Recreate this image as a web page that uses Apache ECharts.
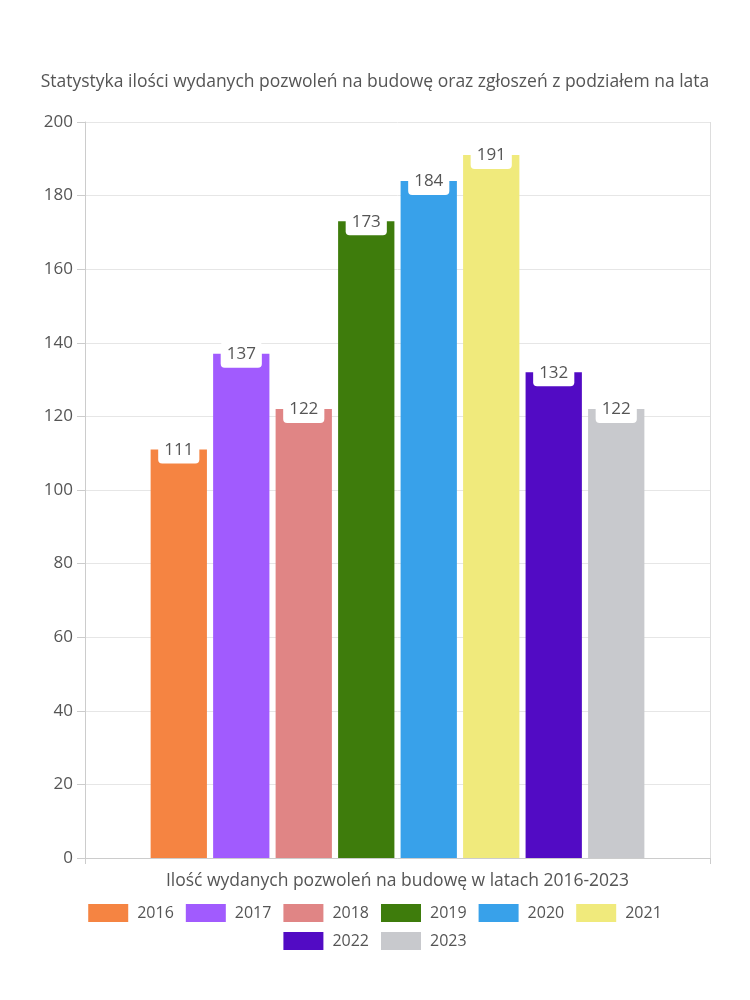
<!DOCTYPE html>
<html>
<head>
<meta charset="utf-8">
<script src="https://cdn.jsdelivr.net/npm/echarts@6/dist/echarts.min.js"></script>
<style>html,body{margin:0;padding:0;background:#fff}#c{width:750px;height:1000px}</style>
</head>
<body>
<div id="c"></div>
<script>
const years = ['2016','2017','2018','2019','2020','2021','2022','2023'];
const values = [111, 137, 122, 173, 184, 191, 132, 122];
const colors = ['#f58442','#a15bfe','#e08585','#3e7c0c','#38a1ea','#f0ea7c','#520bc4','#c8c9cd'];
const category = ['Ilość wydanych pozwoleń na budowę w latach 2016-2023'];
const titleText = 'Statystyka ilości wydanych pozwoleń na budowę oraz zgłoszeń z podziałem na lata';
const FONT = '"Open Sans", Lato, sans-serif';

const legendText = {fontSize: 16, color: '#555', fontFamily: FONT, padding: [0, 0, 0, 4]};
const chart = echarts.init(document.getElementById('c'), null, {renderer: 'canvas'});
chart.setOption({
  animation: false,
  textStyle: {fontFamily: FONT},
  title: {
    text: titleText, left: 'center', top: 68,
    textStyle: {fontSize: 17.5, fontWeight: 'normal', color: '#555', fontFamily: FONT}
  },
  legend: [
    {
      data: years.slice(0, 6), top: 899, left: 'center',
      itemWidth: 40, itemHeight: 18, itemGap: 12,
      textStyle: legendText, icon: 'rect'
    },
    {
      data: years.slice(6), top: 927, left: 'center',
      itemWidth: 40, itemHeight: 18, itemGap: 12,
      textStyle: legendText, icon: 'rect'
    }
  ],
  grid: {left: 85, right: 40, top: 122, bottom: 142},
  xAxis: {
    type: 'category', data: category,
    name: category[0], nameLocation: 'middle', nameGap: 14,
    nameTextStyle: {fontSize: 17.5, color: '#555', fontFamily: FONT},
    axisLabel: {show: false},
    axisLine: {lineStyle: {color: '#ccc'}},
    axisTick: {show: true, length: 6, lineStyle: {color: '#ccc'}},
    splitLine: {show: true, lineStyle: {color: '#ddd'}}
  },
  yAxis: {
    type: 'value', min: 0, max: 200, interval: 20,
    axisLine: {show: true, lineStyle: {color: '#ccc'}},
    axisTick: {show: true, length: 8, lineStyle: {color: '#ccc'}},
    axisLabel: {fontSize: 17, color: '#555', margin: 12, fontFamily: FONT},
    splitLine: {lineStyle: {color: '#e6e6e6'}}
  },
  series: years.map((y, i) => ({
    name: y, type: 'bar',
    data: [values[i]],
    itemStyle: {color: colors[i]},
    barGap: '11%', barCategoryGap: '21%',
    label: {
      show: true, position: 'top', distance: 0, offset: [0, 14],
      backgroundColor: '#fff', borderRadius: 4, padding: [4, 6, 5, 6],
      fontSize: 17, color: '#555', fontFamily: FONT
    }
  }))
});
</script>
</body>
</html>
